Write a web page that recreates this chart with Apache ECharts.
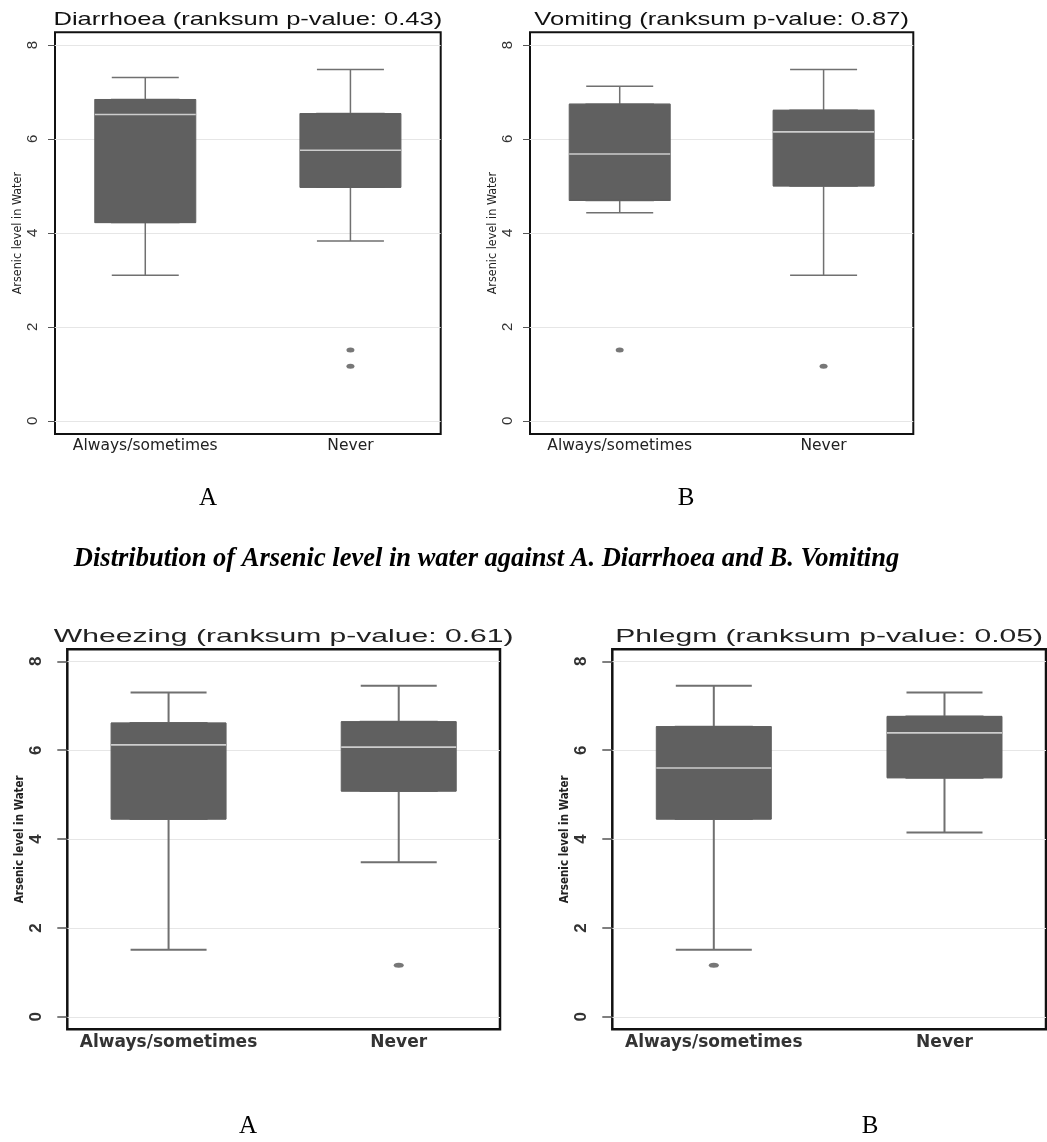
<!DOCTYPE html>
<html>
<head>
<meta charset="utf-8">
<script src="https://cdn.jsdelivr.net/npm/echarts@6/dist/echarts.min.js"></script>
<style>
html,body{margin:0;padding:0;background:#fff;}
#chart{width:1047px;height:1142px;}
</style>
</head>
<body>
<div id="chart"></div>
<script>
// ---------- data ----------
const categories = ['Always/sometimes', 'Never'];
const yTicks = [0, 2, 4, 6, 8];
const yAxisName = 'Arsenic level in Water';

// box statistics per category: [min, Q1, median, Q3, max]
const diarrhoeaBox = [[3.10, 4.22, 6.52, 6.84, 7.31], [3.83, 4.97, 5.76, 6.54, 7.48]];
const vomitingBox  = [[4.43, 4.69, 5.68, 6.74, 7.12], [3.10, 5.00, 6.15, 6.61, 7.48]];
const wheezingBox  = [[1.51, 4.45, 6.12, 6.61, 7.30], [3.48, 5.08, 6.07, 6.64, 7.45]];
const phlegmBox    = [[1.51, 4.45, 5.60, 6.53, 7.45], [4.15, 5.38, 6.39, 6.76, 7.30]];

// outliers per category
const diarrhoeaOut = [[], [1.51, 1.16]];
const vomitingOut  = [[1.51], [1.16]];
const wheezingOut  = [[], [1.16]];
const phlegmOut    = [[1.16], []];

const panelTitles = [
  'Diarrhoea (ranksum p-value: 0.43)',
  'Vomiting (ranksum p-value: 0.87)',
  'Wheezing (ranksum p-value: 0.61)',
  'Phlegm (ranksum p-value: 0.05)'
];
const caption = 'Distribution of Arsenic level in water against A. Diarrhoea and B. Vomiting';
const panelLetters = ['A', 'B', 'A', 'B'];

// ---------- layout / style ----------
const rowStyle = [
  { boxW: 101, capW: 67, whiskW: 1.5, frameW: 2, tickLen: 7, tickW: 1, tickFont: 15, tickWeight: 'normal',
    labelMargin: 15, nameGap: 31, nameFont: 12.5, nameWeight: 'normal', xFont: 15.5, xWeight: 'normal', xColor: '#222',
    xMargin: 4, outSize: [8, 5], titleSize: 18.5, titleScale: 1.38, titleY: 19.5, titleColor: '#111', letterY: 498 },
  { boxW: 115, capW: 76, whiskW: 2, frameW: 2.5, tickLen: 10, tickW: 1.5, tickFont: 17, tickWeight: 'bold',
    labelMargin: 22, nameGap: 41, nameFont: 11.5, nameWeight: 'bold', xFont: 17, xWeight: 'bold', xColor: '#333',
    xMargin: 4.5, outSize: [10, 5], titleSize: 17.7, titleScale: 1.70, titleY: 637, titleColor: '#222', letterY: 1126 }
];

const panels = [
  { box: diarrhoeaBox, out: diarrhoeaOut, row: 0, grid: { left: 55, top: 32.3, width: 385.7, height: 401.7 }, letterX: 208 },
  { box: vomitingBox,  out: vomitingOut,  row: 0, grid: { left: 530, top: 32.3, width: 383.3, height: 401.7 }, letterX: 686 },
  { box: wheezingBox,  out: wheezingOut,  row: 1, grid: { left: 67.3, top: 649.3, width: 432.7, height: 380 }, letterX: 248 },
  { box: phlegmBox,    out: phlegmOut,    row: 1, grid: { left: 612.3, top: 649.3, width: 433.7, height: 380 }, letterX: 870 }
];

const BOX_FILL = '#606060';
const option = {
  animation: false,
  backgroundColor: '#ffffff',
  grid: [], xAxis: [], yAxis: [], series: [],
  graphic: { elements: [] }
};

panels.forEach((p, i) => {
  const s = rowStyle[p.row];
  option.grid.push({
    left: p.grid.left, top: p.grid.top, width: p.grid.width, height: p.grid.height,
    show: true, borderColor: '#111', borderWidth: s.frameW, backgroundColor: '#fff'
  });
  const xBase = {
    type: 'value', gridIndex: i, min: 0.56, max: 2.44,
    splitLine: { show: false }, axisLine: { show: false }, axisTick: { show: false }
  };
  option.xAxis.push(Object.assign({}, xBase, {
    axisLabel: {
      customValues: [1, 2],
      formatter: v => categories[Math.round(v) - 1] || '',
      fontFamily: 'DejaVu Sans', fontSize: s.xFont, fontWeight: s.xWeight, color: s.xColor, margin: s.xMargin
    }
  }));
  option.xAxis.push(Object.assign({}, xBase, { show: false, axisLabel: { show: false } }));
  option.yAxis.push({
    type: 'value', gridIndex: i, min: -0.28, max: 8.27,
    name: yAxisName, nameLocation: 'middle', nameGap: s.nameGap,
    nameTextStyle: { fontFamily: "'Liberation Sans Narrow', 'DejaVu Sans Condensed', sans-serif", fontSize: s.nameFont, fontWeight: s.nameWeight, color: '#222' },
    axisLine: { show: false },
    axisTick: { show: true, customValues: yTicks, length: s.tickLen, inside: false, lineStyle: { color: '#555', width: s.tickW } },
    axisLabel: { customValues: yTicks, rotate: 90, margin: s.labelMargin, fontFamily: "'Liberation Sans', Arial, sans-serif",
      fontSize: s.tickFont, fontWeight: s.tickWeight, color: '#333' },
    splitLine: { show: true, lineStyle: { color: '#e6e6e6', width: 1 } }
  });

  // whiskers (narrower caps) on hidden axis
  option.series.push({
    type: 'boxplot', name: 'whisker', xAxisIndex: 2 * i + 1, yAxisIndex: i, z: 2,
    boxWidth: [s.capW, s.capW], silent: true,
    itemStyle: { color: BOX_FILL, borderColor: '#707070', borderWidth: s.whiskW },
    data: p.box.map((b, k) => [k + 1, b[0], b[1], b[2], b[3], b[4]])
  });
  // box body (Q1..Q3)
  option.series.push({
    type: 'boxplot', name: 'box', xAxisIndex: 2 * i, yAxisIndex: i, z: 3,
    boxWidth: [s.boxW, s.boxW], silent: true,
    itemStyle: { color: BOX_FILL, borderColor: BOX_FILL, borderWidth: 1 },
    data: p.box.map((b, k) => [k + 1, b[1], b[1], b[2], b[3], b[3]])
  });
  // median line
  option.series.push({
    type: 'scatter', name: 'median', xAxisIndex: 2 * i, yAxisIndex: i, z: 4, silent: true,
    symbol: 'rect', symbolSize: [s.boxW, 1.6],
    itemStyle: { color: '#e8e8e8' },
    data: p.box.map((b, k) => [k + 1, b[2]])
  });
  // outliers
  option.series.push({
    type: 'scatter', name: 'outliers', xAxisIndex: 2 * i, yAxisIndex: i, z: 4, silent: true,
    symbol: 'path://M50,0 A50,50 0 1 1 50,100 A50,50 0 1 1 50,0 Z', symbolKeepAspect: false,
    symbolSize: s.outSize,
    itemStyle: { color: '#555' },
    data: p.out.flatMap((vals, k) => vals.map(v => [k + 1, v]))
  });

  // panel title (horizontally stretched like the original)
  option.graphic.elements.push({
    type: 'text', x: p.grid.left + p.grid.width / 2, y: s.titleY, scaleX: s.titleScale, silent: true, z: 10,
    style: { text: panelTitles[i], fontFamily: "'Liberation Sans', Arial, sans-serif", fontSize: s.titleSize,
      fill: s.titleColor, align: 'center', verticalAlign: 'middle', textAlign: 'center', textVerticalAlign: 'middle' }
  });
  // panel letter
  option.graphic.elements.push({
    type: 'text', x: p.letterX, y: s.letterY, silent: true, z: 10,
    style: { text: panelLetters[i], fontFamily: "'Liberation Serif', 'Times New Roman', serif", fontSize: 25,
      fill: '#000', align: 'center', verticalAlign: 'middle', textAlign: 'center', textVerticalAlign: 'middle' }
  });
});

option.graphic.elements.push({
  type: 'text', x: 486.5, y: 559, silent: true, z: 10,
  style: { text: caption, fontFamily: "'Liberation Serif', 'Times New Roman', serif", fontSize: 26.5,
    fontWeight: 'bold', fontStyle: 'italic', fill: '#000',
    align: 'center', verticalAlign: 'middle', textAlign: 'center', textVerticalAlign: 'middle' }
});

const chart = echarts.init(document.getElementById('chart'), null, { renderer: 'canvas' });
chart.setOption(option);
</script>
</body>
</html>
